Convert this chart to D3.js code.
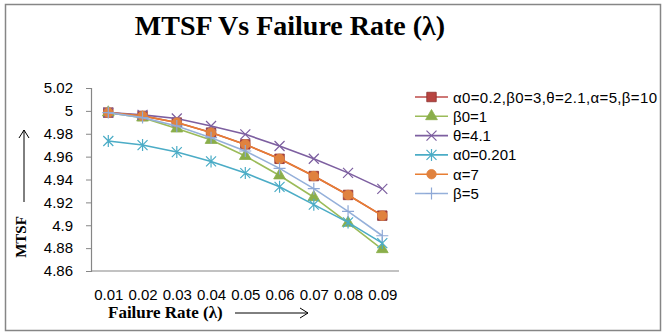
<!DOCTYPE html>
<html>
<head>
<meta charset="utf-8">
<script src="https://cdnjs.cloudflare.com/ajax/libs/d3/7.8.5/d3.min.js"></script>
<style>
  body { margin: 0; background: #fff; }
  .tick text { font-family: "Liberation Sans", Arial, sans-serif; }
</style>
</head>
<body>
<script>
// categories (failure rate)
const rates = ["0.01", "0.02", "0.03", "0.04", "0.05", "0.06", "0.07", "0.08", "0.09"];
const yTicks = [4.86, 4.88, 4.9, 4.92, 4.94, 4.96, 4.98, 5, 5.02];

// series values
const base   = [4.9985, 4.9956, 4.9898, 4.9810, 4.9707, 4.9581, 4.9430, 4.9265, 4.9084];
const beta0  = [4.9985, 4.9941, 4.9845, 4.9745, 4.9605, 4.9435, 4.9245, 4.9020, 4.8790];
const theta  = [4.9985, 4.9965, 4.9933, 4.9868, 4.9795, 4.9693, 4.9581, 4.9458, 4.9318];
const alpha0 = [4.9737, 4.9701, 4.9640, 4.9558, 4.9456, 4.9336, 4.9180, 4.9025, 4.8844];
const alpha  = [4.9985, 4.9956, 4.9898, 4.9810, 4.9707, 4.9581, 4.9430, 4.9265, 4.9084];
const beta   = [4.9985, 4.9941, 4.9868, 4.9766, 4.9649, 4.9497, 4.9320, 4.9122, 4.8908];

const labels = ["α0=0.2,β0=3,θ=2.1,α=5,β=10", "β0=1", "θ=4.1", "α0=0.201", "α=7", "β=5"];

const series = [
  {name: labels[0], vals: base,   line: "#BE4B48", fill: "#B84440", stroke: "#8E3330", mark: "square"},
  {name: labels[1], vals: beta0,  line: "#9BBB59", fill: "#8AAE4A", stroke: "#8AAE4A", mark: "triangle"},
  {name: labels[2], vals: theta,  line: "#7D5FA0", fill: "none",    stroke: "#7D5FA0", mark: "x"},
  {name: labels[3], vals: alpha0, line: "#4BACC6", fill: "none",    stroke: "#4BACC6", mark: "star"},
  {name: labels[4], vals: alpha,  line: "#E87E33", fill: "#E0823F", stroke: "#E0823F", mark: "circle"},
  {name: labels[5], vals: beta,   line: "#95B0DA", fill: "none",    stroke: "#8EA8D6", mark: "plus"}
];

const w = 666, h = 335;

const svg = d3.select("body").append("svg")
  .attr("width", w)
  .attr("height", h);

// outer frame
svg.append("rect")
  .attr("x", 5.5).attr("y", 4.5)
  .attr("width", 655).attr("height", 326)
  .attr("fill", "#fff")
  .attr("stroke", "#868686")
  .attr("stroke-width", 1.5);

const xScale = d3.scalePoint().domain(rates).range([108.3, 382.3]);
const yScale = d3.scaleLinear().domain([4.86, 5.02]).range([271, 88]);

// axes
const yAxis = d3.axisLeft(yScale)
  .tickValues(yTicks)
  .tickSize(5)
  .tickFormat(d => String(+d.toFixed(2)));

const gy = svg.append("g")
  .attr("transform", "translate(91,0)")
  .call(yAxis);
gy.select(".domain").attr("stroke", "#868686").attr("stroke-width", 1.2);
gy.selectAll(".tick line").attr("stroke", "#868686");
gy.selectAll(".tick text").attr("font-size", 15).attr("fill", "#000").attr("x", -18);

const xAxis = d3.axisBottom(xScale).tickSize(0).tickPadding(0);
const gx = svg.append("g")
  .attr("transform", "translate(0,271)")
  .call(xAxis);
gx.select(".domain").attr("d", "M91,0H399").attr("stroke", "#868686").attr("stroke-width", 1.2);
gx.selectAll(".tick text").attr("font-size", 15).attr("fill", "#000").attr("dy", 0).attr("y", 29);

// markers
function markerPath(type) {
  if (type === "square") return d3.symbol(d3.symbolSquare, 90)();
  if (type === "triangle") return d3.symbol(d3.symbolTriangle, 60)();
  if (type === "circle") return d3.symbol(d3.symbolCircle, 70)();
  if (type === "x") return "M-5,-5L5,5M-5,5L5,-5";
  if (type === "star") return "M-5,-5L5,5M-5,5L5,-5M0,-6V6";
  if (type === "plus") return "M-6,0H6M0,-6V6";
}

const line = d3.line()
  .x((d, i) => xScale(rates[i]))
  .y(d => yScale(d));

series.forEach(s => {
  const g = svg.append("g");
  g.append("path")
    .attr("d", line(s.vals))
    .attr("fill", "none")
    .attr("stroke", s.line)
    .attr("stroke-width", 1.6);
  g.selectAll("path.m")
    .data(s.vals)
    .enter()
    .append("path")
    .attr("class", "m")
    .attr("transform", (d, i) => "translate(" + xScale(rates[i]) + "," + yScale(d) + ")")
    .attr("d", markerPath(s.mark))
    .attr("fill", s.fill)
    .attr("stroke", s.stroke)
    .attr("stroke-width", s.fill === "none" ? 1.2 : 0.8);
});

// legend
const legend = svg.append("g");
series.forEach((s, i) => {
  const y = 97 + i * 19.3;
  legend.append("line")
    .attr("x1", 415).attr("x2", 448)
    .attr("y1", y).attr("y2", y)
    .attr("stroke", s.line).attr("stroke-width", 1.6);
  legend.append("path")
    .attr("transform", "translate(431.5," + y + ")")
    .attr("d", markerPath(s.mark))
    .attr("fill", s.fill)
    .attr("stroke", s.stroke)
    .attr("stroke-width", s.fill === "none" ? 1.2 : 0.8);
  legend.append("text")
    .attr("x", 453).attr("y", y + 5.5)
    .attr("font-family", "Liberation Sans, Arial, sans-serif")
    .attr("font-size", 15)
    .attr("textLength", i === 0 ? 204 : null)
    .text(s.name);
});

// titles
svg.append("text")
  .attr("x", 290).attr("y", 35)
  .attr("text-anchor", "middle")
  .attr("font-family", "Liberation Serif, Times New Roman, serif")
  .attr("font-weight", "bold")
  .attr("font-size", 28)
  .text("MTSF Vs Failure Rate (λ)");

svg.append("text")
  .attr("transform", "translate(26,237) rotate(-90)")
  .attr("text-anchor", "middle")
  .attr("font-family", "Liberation Serif, Times New Roman, serif")
  .attr("font-weight", "bold")
  .attr("font-size", 15)
  .text("MTSF");

svg.append("text")
  .attr("x", 108).attr("y", 318)
  .attr("font-family", "Liberation Serif, Times New Roman, serif")
  .attr("font-weight", "bold")
  .attr("font-size", 17)
  .text("Failure Rate (λ)");

// arrows
svg.append("path")
  .attr("d", "M24,202V130M19,138L24,130L29,138")
  .attr("fill", "none").attr("stroke", "#000").attr("stroke-width", 1);
svg.append("path")
  .attr("d", "M235,313H308M300,308L308,313L300,318")
  .attr("fill", "none").attr("stroke", "#000").attr("stroke-width", 1);
</script>
</body>
</html>
